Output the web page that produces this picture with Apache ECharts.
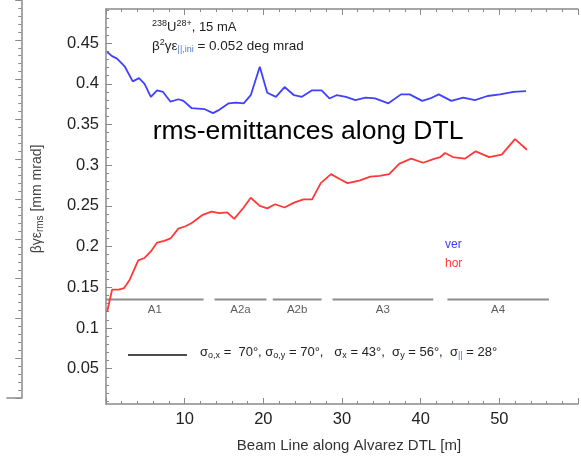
<!DOCTYPE html>
<html><head><meta charset="utf-8">
<script src="https://cdn.jsdelivr.net/npm/echarts@6/dist/echarts.min.js"></script>
<style>html,body{margin:0;padding:0;background:#fff}#c{width:581px;height:462px}</style>
</head><body><div id="c"></div>
<script>
// ---- data ----
var verX = [0.15,0.77,1.4,2.4,3.4,4.2,4.9,5.7,6.5,7.25,8.2,9.2,9.85,10.9,12.5,13.6,14.4,15.6,16.5,17.5,18.4,19.55,20.5,21.6,22.7,23.9,24.9,26.2,27.4,28.4,29.3,30.5,31.7,33.0,34.2,35.9,37.5,38.6,40.2,41.2,42.3,43.9,45.4,46.9,48.5,50.1,51.8,53.4];
var verY = [0.439,0.434,0.431,0.421,0.403,0.407,0.400,0.384,0.392,0.390,0.378,0.381,0.379,0.370,0.369,0.364,0.368,0.376,0.377,0.376,0.386,0.421,0.389,0.384,0.396,0.386,0.384,0.392,0.392,0.382,0.386,0.384,0.380,0.383,0.382,0.376,0.387,0.387,0.379,0.382,0.387,0.379,0.383,0.380,0.385,0.387,0.390,0.391];
var horX = [0.15,0.77,1.6,2.3,3.0,4.1,4.9,5.7,6.5,7.4,8.2,9.2,10.1,10.9,12.3,13.4,14.4,15.4,16.3,17.5,18.4,19.55,20.5,21.5,22.7,23.9,25.1,26.2,27.3,28.6,29.7,30.7,32.2,33.6,34.8,36.0,37.3,38.8,40.3,41.8,42.5,43.1,44.1,45.6,47.0,48.7,50.3,52.0,53.5];
var horY = [0.120,0.147,0.147,0.149,0.159,0.183,0.186,0.194,0.205,0.207,0.210,0.222,0.225,0.229,0.239,0.243,0.241,0.242,0.234,0.248,0.260,0.250,0.247,0.252,0.248,0.254,0.258,0.258,0.278,0.289,0.283,0.278,0.281,0.286,0.287,0.289,0.302,0.308,0.303,0.308,0.310,0.315,0.310,0.308,0.317,0.310,0.313,0.332,0.319];
var sectionNames = ['A1','A2a','A2b','A3','A4'];
var sectionStart = [0, 13.8, 21.2, 28.8, 43.4];
var sectionEnd = [12.4, 20.4, 27.4, 41.6, 56.3];
var sectionLevel = 0.135;
var xTicks = [0,10,20,30,40,50,60];
var yTickLabels = [0.05,0.1,0.15,0.2,0.25,0.3,0.35,0.4,0.45];
var yMinorTicks = [0.01,0.02,0.03,0.04,0.06,0.07,0.08,0.09,0.11,0.12,0.13,0.14,0.16,0.17,0.18,0.19,0.21,0.22,0.23,0.24,0.26,0.27,0.28,0.29,0.31,0.32,0.33,0.34,0.36,0.37,0.38,0.39,0.41,0.42,0.43,0.44,0.46,0.47,0.48,0.49];
var yMin = 0.0066, yMax = 0.4919, xMin = 0, xMax = 60;

function pairs(xs, ys){ return xs.map(function(x,i){return [x, ys[i]];}); }

var FONT = 'Liberation Sans, Arial, sans-serif';
var AX = '#8a8a8a';
var chart = echarts.init(document.getElementById('c'), null, {renderer:'canvas'});

var series = [
  {name:'ver', type:'line', xAxisIndex:0, yAxisIndex:0, data:pairs(verX, verY), showSymbol:false, symbol:'none',
   lineStyle:{color:'#4040ff', width:1.8}, z:5, animation:false},
  {name:'hor', type:'line', xAxisIndex:0, yAxisIndex:0, data:pairs(horX, horY), showSymbol:false, symbol:'none',
   lineStyle:{color:'#ff3838', width:1.8}, z:5, animation:false}
];
sectionNames.forEach(function(n,i){
  series.push({type:'line', xAxisIndex:0, yAxisIndex:0, data:[[sectionStart[i],sectionLevel],[sectionEnd[i],sectionLevel]],
    symbol:'none', lineStyle:{color:'#8c8c8c', width:2}, z:3, animation:false, silent:true});
});
series.push({type:'scatter', xAxisIndex:0, yAxisIndex:0, symbolSize:0, animation:false, silent:true,
  data: sectionNames.map(function(n,i){return {name:n, value:[(sectionStart[i]+sectionEnd[i])/2, sectionLevel]};}),
  label:{show:true, position:'bottom', distance:4, formatter:'{b}', fontFamily:FONT, fontSize:11.5, color:'#333'}});

var option = {
  backgroundColor:'#fff',
  animation:false,
  grid:[
    {left:106, top:9, width:484, height:395, containLabel:false},
    {left:-50, top:-2, width:57, height:400}
  ],
  xAxis:[
    {type:'value', gridIndex:0, min:xMin, max:xMax, interval:10, position:'bottom',
     axisLine:{show:true, onZero:false, lineStyle:{color:AX, width:1.5}},
     axisTick:{show:true, inside:true, length:6, lineStyle:{color:AX}},
     minorTick:{show:true, splitNumber:5, length:3, lineStyle:{color:AX}},
     axisLabel:{show:true, margin:7, fontFamily:FONT, fontSize:16.5, color:'#222',
       formatter:function(v){return (v===0||v===60)?'':String(v);}},
     splitLine:{show:false}},
    {type:'value', gridIndex:0, min:xMin, max:xMax, interval:10, position:'top',
     axisLine:{show:true, onZero:false, lineStyle:{color:AX, width:1.5}},
     axisTick:{show:true, inside:true, length:6, lineStyle:{color:AX}},
     minorTick:{show:true, splitNumber:5, length:3, lineStyle:{color:AX}},
     axisLabel:{show:false}, splitLine:{show:false}},
    {type:'value', gridIndex:1, min:0, max:10, position:'bottom',
     axisLine:{show:true, onZero:false, lineStyle:{color:AX, width:1.5}},
     axisTick:{show:false}, axisLabel:{show:false}, splitLine:{show:false}}
  ],
  yAxis:[
    {type:'value', gridIndex:0, min:yMin, max:yMax, position:'left',
     axisLine:{show:true, onZero:false, lineStyle:{color:AX, width:1.5}},
     axisTick:{show:true, inside:true, length:6, customValues:yTickLabels, lineStyle:{color:AX}},
     axisLabel:{show:true, margin:7, customValues:yTickLabels, fontFamily:FONT, fontSize:16.5, color:'#222',
       formatter:function(v){return String(Math.round(v*100)/100);}},
     splitLine:{show:false}},
    {type:'value', gridIndex:0, min:yMin, max:yMax, position:'left',
     axisLine:{show:false},
     axisTick:{show:true, inside:true, length:3, customValues:yMinorTicks, lineStyle:{color:AX}},
     axisLabel:{show:false, customValues:yMinorTicks}, splitLine:{show:false}},
    {type:'value', gridIndex:1, min:0, max:10, interval:1, position:'right',
     axisLine:{show:true, onZero:false, lineStyle:{color:AX, width:1.5}},
     axisTick:{show:true, inside:true, length:6, lineStyle:{color:AX}},
     minorTick:{show:true, splitNumber:5, length:3, lineStyle:{color:AX}},
     axisLabel:{show:false}, splitLine:{show:false}}
  ],
  graphic:[
    {type:'text', left:152, top:19, style:{text:'{sup|238}U{sup|28+}, 15 mA', font:'13px '+FONT, fill:'#222',
      rich:{sup:{fontSize:9, fontFamily:FONT, fill:'#222', padding:[0,0,8,0]}}}},
    {type:'text', left:152, top:38, style:{text:'β{sup|2}γε{sb|||,ini} = 0.052 deg mrad', font:'13.5px '+FONT, fill:'#222',
      rich:{sup:{fontSize:9, fontFamily:FONT, fill:'#222', padding:[0,0,8,0]}, sb:{fontSize:9, fontFamily:FONT, fill:'#4f78c8', padding:[7,0,0,0]}}}},
    {type:'text', x:308, y:132, style:{text:'rms-emittances along DTL', font:'26.5px '+FONT, fill:'#000', align:'center', verticalAlign:'middle'}},
    {type:'text', left:445, top:239, style:{text:'ver', font:'12px '+FONT, fill:'#3c3cff'}},
    {type:'text', left:445, top:258, style:{text:'hor', font:'12px '+FONT, fill:'#ff3636'}},
    {type:'line', shape:{x1:128, y1:355, x2:187, y2:355}, style:{stroke:'#111', lineWidth:1.5}},
    {type:'text', left:200, top:346, style:{
      text:'σ{sb|o,x} =  70°, σ{sb|o,y} = 70°,   σ{sb|x} = 43°,  σ{sb|y} = 56°,  σ{sbb|||} = 28°',
      font:'13px '+FONT, fill:'#222',
      rich:{sb:{fontSize:9, fontFamily:FONT, fill:'#222', padding:[7,0,0,0]}, sbb:{fontSize:9, fontFamily:FONT, fill:'#4f78c8', padding:[7,0,0,0]}}}},
    {type:'text', x:349, y:446, style:{text:'Beam Line along Alvarez DTL [m]', font:'15px '+FONT, fill:'#333', align:'center', verticalAlign:'middle'}},
    {type:'text', x:37, y:199, rotation:Math.PI/2, style:{text:'βγε{sb|rms} [mm mrad]', font:'14px '+FONT, fill:'#444', align:'center', verticalAlign:'middle',
      rich:{sb:{fontSize:10, fontFamily:FONT, fill:'#444', padding:[7,0,0,0]}}}}
  ],
  series: series
};
chart.setOption(option);
</script></body></html>
